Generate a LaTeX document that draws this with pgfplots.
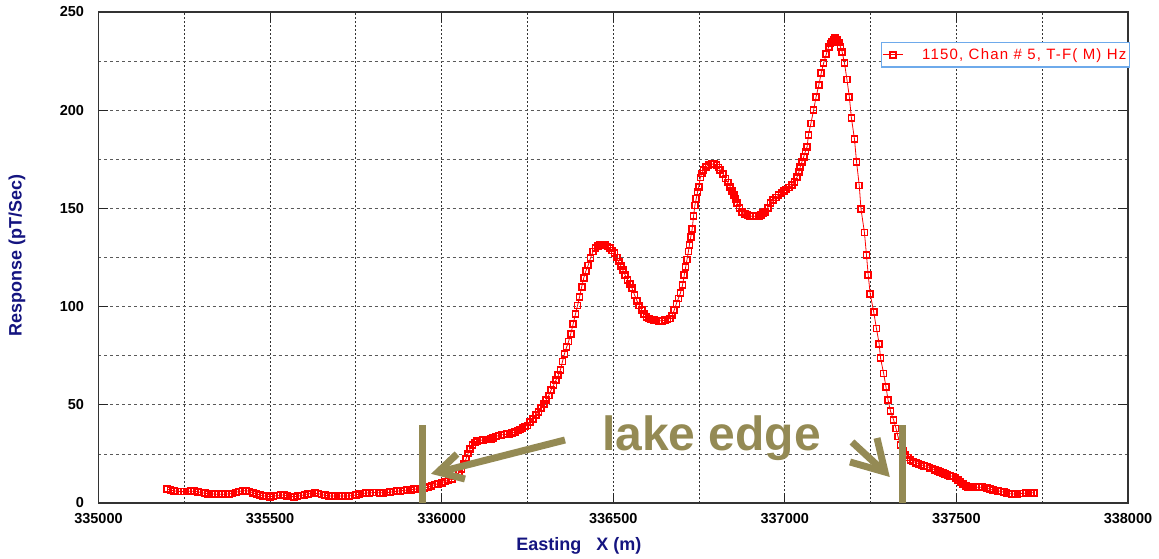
\documentclass[border=0pt]{standalone}
\usepackage{pgfplots}
\pgfplotsset{compat=1.18}
\usepackage{fontspec}
\setmainfont{Liberation Sans}
\newfontfamily\widesans[LetterSpace=8]{Liberation Sans}

\definecolor{curveRed}{RGB}{255,0,0}
\definecolor{labelBlue}{RGB}{20,20,128}
\definecolor{lakeOlive}{RGB}{148,138,84}
\definecolor{legendBlue}{RGB}{110,170,235}

\begin{document}
\begin{tikzpicture}
% page = 1159 x 558, plot area lower left at (0,0)
\useasboundingbox (-98.5pt,-55pt) rectangle (1060.5pt,503pt);
\begin{axis}[
  at={(0pt,0pt)}, anchor=south west,
  scale only axis,
  width=1029.5pt, height=491pt,
  xmin=335000, xmax=338000,
  ymin=0, ymax=250,
  xtick={335000,335500,...,338000},
  ytick={0,50,...,250},
  minor x tick num=1,
  minor y tick num=1,
  scaled x ticks=false,
  /pgf/number format/fixed,
  /pgf/number format/precision=0,
  /pgf/number format/1000 sep={},
  /pgf/number format/assume math mode=true,
  tick align=inside,
  major tick length=10pt,
  minor tick length=0pt,
  tick style={black!85, line width=1pt},
  axis line style={black!80, line width=1.5pt},
  grid=both,
  major x grid style={black!80, line width=0.8pt, dash pattern=on 2pt off 2pt},
  minor x grid style={black!80, line width=0.8pt, dash pattern=on 2pt off 2pt},
  major y grid style={black!65, line width=0.8pt, dash pattern=on 3pt off 3pt},
  minor y grid style={black!65, line width=0.8pt, dash pattern=on 3pt off 3pt},
  ticklabel style={font=\bfseries\fontsize{14.5}{16}\selectfont, text=black},
  xticklabel style={yshift=-7pt},
  yticklabel style={xshift=-11pt},
  xlabel={Easting\hspace{15pt}X (m)},
  ylabel={Response (pT/Sec)},
  label style={font=\bfseries\fontsize{18}{20}\selectfont, text=labelBlue},
  xlabel style={at={(rel axis cs:0.4667,0)}, anchor=base, yshift=-47pt},
  ylabel style={at={(rel axis cs:0,0.505)}, anchor=center, yshift=81.5pt},
  legend style={at={(1.002,0.939)}, anchor=north east,
    draw=legendBlue, line width=1.2pt, fill=white,
    font=\widesans\fontsize{15}{17}\selectfont, text=curveRed,
    inner xsep=1pt, inner ysep=4pt,
    /tikz/every odd column/.append style={column sep=17pt}},
  legend cell align=left,
  legend image code/.code={\draw[mark repeat=2,mark phase=2,#1] plot coordinates {(0pt,0pt) (10pt,0pt) (20pt,0pt)};},
]
\addplot[curveRed, line width=0.8pt, mark=square, mark size=3pt,
  mark options={line width=1.7pt, solid}] coordinates {
(335200,7.0) (335210,6.6) (335220,6.2) (335230,5.9) (335240,5.8)
(335250,5.8) (335260,5.9) (335270,6.0) (335280,6.0) (335290,5.7)
(335300,5.3) (335310,5.0) (335320,4.7) (335330,4.6) (335340,4.5)
(335350,4.5) (335360,4.5) (335370,4.5) (335380,4.6) (335390,4.9)
(335400,5.4) (335410,5.9) (335420,6.2) (335430,6.3) (335440,5.9)
(335450,5.2) (335460,4.6) (335470,4.1) (335480,3.7) (335490,3.4)
(335500,3.2) (335510,3.4) (335520,3.8) (335530,4.1) (335540,4.1)
(335550,3.7) (335560,3.3) (335570,3.2) (335580,3.4) (335590,3.8)
(335600,4.2) (335610,4.6) (335620,4.9) (335630,5.0) (335640,4.8)
(335650,4.3) (335660,3.9) (335670,3.6) (335680,3.6) (335690,3.6)
(335700,3.6) (335710,3.6) (335720,3.6) (335730,3.6) (335740,3.8)
(335750,4.1) (335760,4.5) (335770,4.8) (335780,5.1) (335790,5.2)
(335800,5.3) (335810,5.3) (335820,5.2) (335830,5.2) (335840,5.3)
(335850,5.5) (335860,5.8) (335870,6.0) (335880,6.2) (335890,6.4)
(335900,6.6) (335910,6.8) (335920,7.0) (335930,7.2) (335940,7.4)
(335950,7.7) (335960,8.0) (335970,8.7) (335980,9.4) (335990,9.8)
(336000,10.3) (336010,11.0) (336020,11.7) (336030,12.4) (336040,13.5)
(336050,15.2) (336058,17.2) (336065,19.8) (336071,22.5) (336077,25.2)
(336083,27.6) (336090,29.5) (336097,30.8) (336104,31.5) (336112,31.9)
(336120,32.1) (336128,32.3) (336136,32.4) (336143,32.7) (336150,33.2)
(336158,33.8) (336166,34.4) (336174,34.7) (336182,34.9) (336190,35.0)
(336198,35.1) (336206,35.6) (336214,36.2) (336222,36.9) (336229,37.5)
(336236,38.3) (336243,39.0) (336250,39.5) (336258,41.2) (336266,42.6)
(336274,44.8) (336282,46.5) (336290,48.5) (336298,50.5) (336305,52.6)
(336312,54.8) (336319,57.5) (336326,60.0) (336333,62.6) (336340,65.0)
(336346,67.7) (336352,72.0) (336358,76.0) (336364,79.3) (336370,82.3)
(336376,86.0) (336383,91.0) (336390,96.2) (336396,100.5) (336402,105.0)
(336408,110.0) (336414,114.5) (336420,118.0) (336427,121.0) (336434,124.8)
(336441,128.0) (336448,130.0) (336455,131.0) (336462,131.3) (336469,131.4)
(336476,131.2) (336483,130.6) (336490,129.8) (336497,128.6) (336504,127.3)
(336510,125.0) (336516,122.9) (336522,120.8) (336528,118.5) (336535,116.0)
(336542,113.7) (336548,111.5) (336555,109.3) (336562,106.0) (336569,103.0)
(336576,100.6) (336583,98.3) (336590,96.4) (336597,94.8) (336604,94.0)
(336611,93.5) (336618,93.2) (336626,93.0) (336634,92.8) (336642,92.8)
(336650,93.1) (336658,93.5) (336666,94.0) (336672,95.5) (336678,98.3)
(336684,101.5) (336690,104.2) (336696,107.0) (336702,111.0) (336707,116.0)
(336711,120.0) (336715,124.0) (336719,128.0) (336722,131.4) (336726,135.5)
(336730,139.4) (336734,146.0) (336738,151.5) (336742,155.1) (336746,158.5)
(336749,161.0) (336754,165.8) (336758,167.8) (336763,169.6) (336770,171.2)
(336778,172.1) (336786,172.5) (336794,172.6) (336801,172.0) (336807,170.8)
(336812,169.6) (336820,167.5) (336827,165.3) (336834,163.2) (336841,161.0)
(336846,159.0) (336851,156.8) (336856,154.7) (336861,152.6) (336868,150.3)
(336875,148.3) (336883,147.2) (336891,146.5) (336899,146.1) (336907,146.0)
(336915,146.0) (336924,146.1) (336931,146.8) (336937,147.5) (336943,148.3)
(336950,150.3) (336958,152.6) (336966,154.3) (336974,155.6) (336982,156.8)
(336990,157.9) (336997,158.8) (337004,159.6) (337012,160.6) (337021,161.9)
(337028,163.5) (337036,166.1) (337041,168.5) (337045,171.2) (337050,173.8)
(337055,176.3) (337060,179.0) (337065,181.4) (337069,187.4) (337076,193.3)
(337084,200.1) (337091,206.6) (337099,212.8) (337106,218.8) (337113,223.9)
(337121,228.6) (337128,232.3) (337133,234.0) (337138,234.9) (337143,236.0)
(337147,236.6) (337152,235.8) (337157,234.4) (337162,232.3) (337167,229.8)
(337174,223.9) (337181,215.7) (337188,206.9) (337194,196.2) (337203,185.3)
(337209,173.8) (337217,161.6) (337222,149.7) (337232,137.8) (337238,126.3)
(337243,116.1) (337249,106.3) (337259,97.4) (337267,88.9) (337275,81.0)
(337279,73.7) (337288,66.0) (337295,58.9) (337301,52.4) (337308,46.8)
(337317,42.3) (337324,38.0) (337330,33.8) (337337,29.5) (337344,26.5)
(337351,24.5) (337358,23.2) (337366,22.0) (337374,21.2) (337382,20.5)
(337390,20.0) (337398,19.4) (337406,19.0) (337414,18.6) (337422,18.0)
(337430,17.5) (337438,16.8) (337446,16.2) (337453,15.9) (337460,15.2)
(337467,14.6) (337474,14.2) (337482,13.9) (337490,13.5) (337497,12.8)
(337504,11.8) (337512,10.8) (337520,9.6) (337527,8.8) (337534,8.3)
(337542,8.2) (337550,8.1) (337558,8.0) (337566,8.0) (337574,8.0)
(337582,7.9) (337590,7.5) (337598,7.0) (337606,6.6) (337614,6.4)
(337622,6.2) (337630,5.9) (337638,5.5) (337646,5.1) (337654,4.8)
(337662,4.6) (337670,4.6) (337678,4.7) (337686,4.8) (337694,4.9)
(337702,5.0) (337710,5.1) (337718,5.2) (337726,5.2)
};
\addlegendentry{1150, Chan \# 5, T-F( M) Hz}
\end{axis}

% lake edge annotation (pt offsets from the plot's lower left corner)
\begin{scope}[lakeOlive, line width=7pt]
  \draw (323.5pt,0pt) -- (323.5pt,78pt);
  \draw (803.5pt,0pt) -- (803.5pt,78pt);
  \draw (466.5pt,63pt) -- (341pt,31pt);
  \draw[line join=miter] (366.5pt,24pt) -- (339.5pt,31pt) -- (358.5pt,49pt);
  \draw (753.5pt,61pt) -- (785pt,32pt);
  \draw[line join=miter] (778.5pt,65pt) -- (786.5pt,31pt) -- (751.5pt,41pt);
\end{scope}
\node[anchor=base west, inner sep=0pt, text=lakeOlive,
  font=\bfseries\fontsize{48}{50}\selectfont] at (503.5pt,53pt) {lake edge};
\end{tikzpicture}
\end{document}
